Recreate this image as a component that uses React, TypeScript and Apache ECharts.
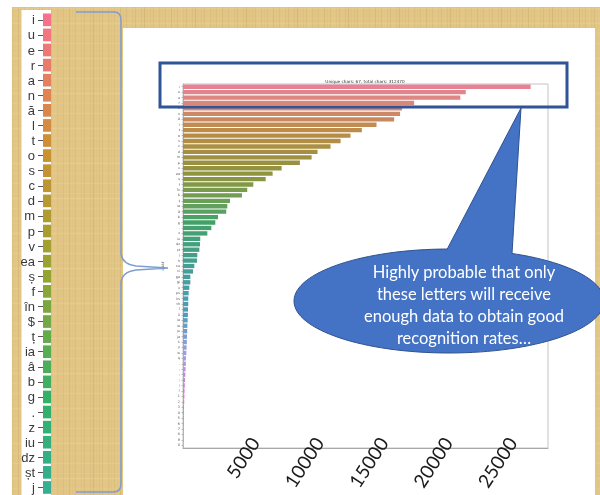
import React, { useEffect, useRef } from 'react';
import * as echarts from 'echarts';

// ---------- data ----------
const categories = ['i', 'u', 'e', 'r', 'a', 'n', 'ă', 'l', 't', 'o', 's', 'c', 'd', 'm', 'p', 'v', 'ea', 'ș', 'f', 'în', '$', 'ț', 'ia', 'â', 'b', 'g', '.', 'z', 'iu', 'dz', 'șt', 'j', 'h', 'ce', 'ci', 'ge', 'gi', 'x', 'ps', 'ks', 'th', 'ĭ', 'ŭ', 'ie', 'io', 'ju', 'ja', 'k', 'y', 'w', 'q', '-', ',', ':', ';', '!', '?', '1', '2', '3', '4', '5', '6', '7', '8', '9', '0'];
const counts = [27000, 21960, 21540, 17950, 17020, 16860, 16400, 15030, 13890, 13010, 12240, 11460, 10450, 9990, 9080, 7660, 6960, 6420, 5460, 4990, 4580, 3650, 3440, 3360, 2720, 2510, 2200, 1890, 1340, 1320, 1270, 1110, 1090, 880, 780, 570, 570, 490, 440, 410, 410, 390, 380, 360, 340, 330, 310, 300, 280, 260, 230, 220, 200, 180, 160, 140, 120, 110, 95, 80, 65, 50, 40, 30, 20, 12, 6];
const xTickLabels = [5000, 10000, 15000, 20000, 25000];
const chartTitle = 'Unique chars: 67, total chars: 312470';
const yAxisName = 'char';
const calloutLines = ['Highly probable that only', 'these letters will receive', 'enough data to obtain good', 'recognition rates…'];
const STRIP_ROWS = 32;

// ---------- colours ----------
const huslAnchors = ['#f77189', '#ce9032', '#97a431', '#32b166', '#36ada4', '#39a7d0', '#a48cf4', '#f561dd'];
function hexToRgb(h: string) {
  return [1, 3, 5].map((i) => parseInt(h.slice(i, i + 2), 16) / 255);
}
function paletteRgb(k: number, n: number) {
  const pos = (k * huslAnchors.length) / n;
  const j = Math.floor(pos);
  const t = pos - j;
  const a = hexToRgb(huslAnchors[j % huslAnchors.length]);
  const b = hexToRgb(huslAnchors[(j + 1) % huslAnchors.length]);
  return a.map((v, i) => v + (b[i] - v) * t);
}
function desaturate(rgb: number[], prop: number) {
  const [r, g, b] = rgb;
  const mx = Math.max(r, g, b), mn = Math.min(r, g, b);
  const l = (mx + mn) / 2;
  if (mx === mn) return rgb;
  const d = mx - mn;
  let s = l > 0.5 ? d / (2 - mx - mn) : d / (mx + mn);
  let h = 0;
  if (mx === r) h = (g - b) / d + (g < b ? 6 : 0);
  else if (mx === g) h = (b - r) / d + 2;
  else h = (r - g) / d + 4;
  h /= 6;
  s *= prop;
  const q = l < 0.5 ? l * (1 + s) : l + s - l * s;
  const p = 2 * l - q;
  const hue2 = (t: number) => {
    if (t < 0) t += 1;
    if (t > 1) t -= 1;
    if (t < 1 / 6) return p + (q - p) * 6 * t;
    if (t < 1 / 2) return q;
    if (t < 2 / 3) return p + (q - p) * (2 / 3 - t) * 6;
    return p;
  };
  return [hue2(h + 1 / 3), hue2(h), hue2(h - 1 / 3)];
}
const toCss = (c: number[]) => `rgb(${c.map((v) => Math.round(v * 255)).join(',')})`;

// ---------- brace shape ----------
const braceD =
  'M76,12 L114,12 Q121,12 121,20 L121,252 Q121,264 136,266 L168,268 L136,270 Q121,272 121,284 L121,484 Q121,492 113,492 L76,492';
echarts.graphic.registerShape('brace', echarts.graphic.extendPath(braceD, {}) as any);

function buildOption() {
  const n = categories.length;
  const fullColors = categories.map((_, k) => toCss(paletteRgb(k, n)));
  const mainColors = categories.map((_, k) => toCss(desaturate(paletteRgb(k, n), 0.75)));

  const g: any[] = [];
  // papyrus background
  g.push({ type: 'rect', silent: true, z: -20, shape: { x: 12, y: 7, width: 588, height: 488 }, style: { fill: '#e3c787' } });
  const streak = [0.1, 0.03, 0.17, 0.06, 0.12, 0.02, 0.08, 0.15, 0.04, 0.1, 0.2, 0.05, 0.09, 0.13, 0.01, 0.11, 0.07];
  for (let i = 0; i < 196; i++) {
    const x = 12.5 + i * 3;
    g.push({ type: 'line', silent: true, z: -19, shape: { x1: x, y1: 7, x2: x, y2: 495 }, style: { stroke: `rgba(165,120,45,${streak[i % streak.length]})`, lineWidth: 1.3 } });
  }
  const hz = [0.12, 0.03, 0.08, 0.15, 0.05, 0.1, 0.02];
  for (let j = 0; j < 98; j++) {
    const y = 8.5 + j * 5;
    g.push({ type: 'line', silent: true, z: -19, shape: { x1: 12, y1: y, x2: 600, y2: y }, style: { stroke: `rgba(255,240,200,${hz[j % hz.length]})`, lineWidth: 1.5 } });
  }
  // white slide + strip column
  g.push({ type: 'rect', silent: true, z: -18, shape: { x: 123, y: 28, width: 472, height: 467 }, style: { fill: '#ffffff' } });
  g.push({ type: 'rect', silent: true, z: -18, shape: { x: 21.5, y: 10, width: 29.5, height: 485 }, style: { fill: '#ffffff' } });

  // overlays
  g.push({ type: 'brace', silent: true, z: 50, x: 0, y: 0, style: { fill: 'none', stroke: '#7f9dd0', lineWidth: 1.5 } });
  g.push({ type: 'rect', silent: true, z: 50, shape: { x: 160, y: 63, width: 407, height: 44 }, style: { fill: 'none', stroke: '#2f5597', lineWidth: 3 } });
  g.push({ type: 'ellipse', silent: true, z: 50, shape: { cx: 449, cy: 301, rx: 155, ry: 52 }, style: { fill: '#4472c4', stroke: '#2f528f', lineWidth: 1 } });
  g.push({ type: 'polygon', silent: true, z: 51, shape: { points: [[446, 262], [447, 249.5], [521, 108], [512, 253.5], [513, 262]] }, style: { fill: '#4472c4' } });
  g.push({ type: 'polyline', silent: true, z: 52, shape: { points: [[447, 249.5], [521, 108], [512, 253.5]] }, style: { fill: 'none', stroke: '#2f528f', lineWidth: 1 } });
  g.push({
    type: 'text', silent: true, z: 53,
    style: { text: calloutLines.join('\n'), x: 464, y: 304.5, align: 'center', verticalAlign: 'middle', fill: '#ffffff', fontSize: 16.5, fontFamily: 'Lato', lineHeight: 22 },
  });

  return {
    animation: false,
    backgroundColor: 'transparent',
    title: {
      text: chartTitle,
      left: 365,
      top: 79.5,
      padding: 0,
      textAlign: 'center',
      textStyle: { fontSize: 4.2, fontWeight: 'normal', color: '#333', fontFamily: 'DejaVu Sans' },
    },
    grid: [
      { left: 183, top: 84, width: 365, height: 364, show: true, borderColor: '#c4c4c4', borderWidth: 1, backgroundColor: 'transparent' },
      { left: 43, top: 12.3, width: 8, height: STRIP_ROWS * 15.43 },
    ],
    xAxis: [
      {
        type: 'value', gridIndex: 0, min: 0, max: 28350, interval: 5000,
        axisLine: { show: true, lineStyle: { color: '#a8a8a8', width: 1 } },
        axisTick: { show: false }, splitLine: { show: false }, axisLabel: { show: false },
      },
      {
        type: 'value', gridIndex: 0, position: 'bottom', min: -550, max: 27800,
        axisLine: { show: false }, axisTick: { show: false }, splitLine: { show: false },
        axisLabel: {
          show: true, customValues: xTickLabels, rotate: 57, margin: -9, fontSize: 19, fontFamily: 'Lato', color: '#1a1a1a',
          formatter: (v: number) => String(v),
        },
      },
      { type: 'value', gridIndex: 1, min: 0, max: 200, show: false },
    ],
    yAxis: [
      {
        type: 'category', gridIndex: 0, data: categories, inverse: true,
        name: yAxisName, nameLocation: 'middle', nameGap: 9.5, nameRotate: 90,
        nameTextStyle: { fontSize: 4, color: '#444', fontFamily: 'DejaVu Sans' },
        axisLine: { show: true, lineStyle: { color: '#b8b8b8', width: 1 } },
        axisTick: { show: true, alignWithLabel: true, length: 1.5, lineStyle: { color: '#888', width: 0.5 } },
        axisLabel: { interval: 0, fontSize: 3.4, lineHeight: 3.6, margin: 3, color: '#555', fontFamily: 'DejaVu Sans' },
      },
      {
        type: 'category', gridIndex: 1, data: categories.slice(0, STRIP_ROWS), inverse: true,
        axisLine: { show: false },
        axisTick: { show: true, alignWithLabel: true, length: 5, lineStyle: { color: '#555', width: 1 } },
        axisLabel: { interval: 0, fontSize: 13, lineHeight: 14, margin: 8, color: '#3a3a3a', fontFamily: 'Liberation Sans' },
      },
    ],
    series: [
      {
        type: 'bar', xAxisIndex: 0, yAxisIndex: 0, silent: true, barCategoryGap: '20%',
        data: counts.map((v, k) => ({ value: v, itemStyle: { color: mainColors[k] } })),
      },
      {
        type: 'bar', xAxisIndex: 2, yAxisIndex: 1, silent: true, barCategoryGap: '16%', clip: true,
        data: counts.slice(0, STRIP_ROWS).map((v, k) => ({ value: v, itemStyle: { color: fullColors[k] } })),
      },
    ],
    graphic: { elements: g },
  };
}

export default function App() {
  const ref = useRef<HTMLDivElement>(null);
  useEffect(() => {
    if (!ref.current) return;
    const chart = echarts.init(ref.current, null, { renderer: 'svg' });
    chart.setOption(buildOption() as any);
    return () => chart.dispose();
  }, []);
  return <div ref={ref} style={{ position: 'fixed', left: 0, top: 0, width: 600, height: 495 }} />;
}
